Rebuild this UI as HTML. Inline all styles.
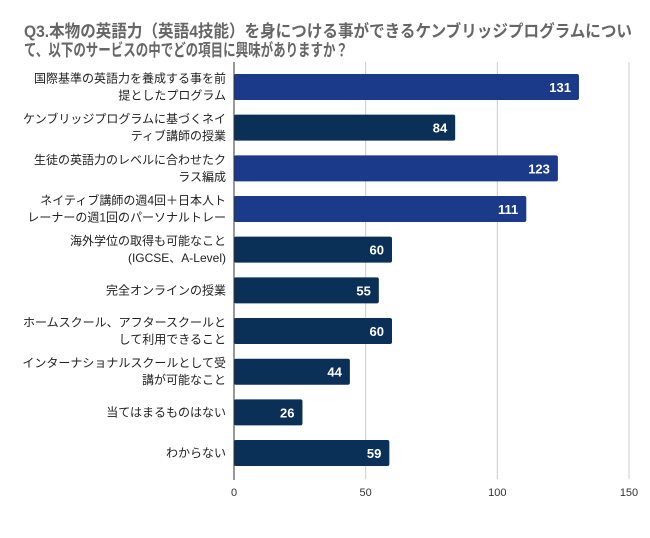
<!DOCTYPE html>
<html><head><meta charset="utf-8"><style>
body{margin:0;background:#fff;}
svg text{font-family:"Liberation Sans","Noto Sans CJK JP",sans-serif;}
</style></head><body>
<svg width="650" height="533" xmlns="http://www.w3.org/2000/svg">
<rect width="650" height="533" fill="#fff"/>
<text x="24" y="37" font-size="17" font-weight="bold" fill="#666" textLength="608" lengthAdjust="spacingAndGlyphs">Q3.本物の英語力（英語4技能）を身につける事ができるケンブリッジプログラムについ</text>
<text x="24" y="56" font-size="17" font-weight="bold" fill="#666" textLength="324" lengthAdjust="spacingAndGlyphs">て、以下のサービスの中でどの項目に興味がありますか？</text>
<g id="grid"></g><g id="bars"></g><g id="labels"></g><g id="ticks"></g>
</svg>
<script>
const categories=[["国際基準の英語力を養成する事を前","提としたプログラム"],["ケンブリッジプログラムに基づくネイ","ティブ講師の授業"],["生徒の英語力のレベルに合わせたク","ラス編成"],["ネイティブ講師の週4回＋日本人ト","レーナーの週1回のパーソナルトレー"],["海外学位の取得も可能なこと","(IGCSE、A-Level)"],["完全オンラインの授業"],["ホームスクール、アフタースクールと","して利用できること"],["インターナショナルスクールとして受","講が可能なこと"],["当てはまるものはない"],["わからない"]];
const values=[131,84,123,111,60,55,60,44,26,59];
const highlighted=[true,false,true,true,false,false,false,false,false,false];
const tickValues=[0,50,100,150];
const NS="http://www.w3.org/2000/svg";
const x0=234,x1=629,maxV=150,top0=74,pitch=40.67,bh=26;
const xs=v=>x0+(v/maxV)*(x1-x0);
const ys=i=>top0+i*pitch;
function mk(tag,attrs,parent){const e=document.createElementNS(NS,tag);for(const k in attrs)e.setAttribute(k,attrs[k]);document.getElementById(parent).appendChild(e);return e;}
tickValues.forEach(t=>{
 if(t>0){const g=mk('line',{x1:xs(t),x2:xs(t),y1:62,y2:479,stroke:'#ccc','stroke-width':1},'grid');
 
 }
 const tl=mk('text',{x:xs(t),y:496,'font-size':11,fill:'#333','text-anchor':'middle'},'ticks');
 tl.textContent=t;
 
 
});
values.forEach((v,i)=>{
 const r=mk('rect',{x:x0,y:ys(i),width:xs(v)-x0,height:bh,rx:2,fill:highlighted[i]?'#1b3a8a':'#0b3058'},'bars');
 
 
 const vl=mk('text',{x:xs(v)-8,y:ys(i)+bh/2+5,'font-size':13,'font-weight':'bold',fill:'#fff','text-anchor':'end'},'bars');
 vl.textContent=v;
 
 
 const lines=categories[i];
 const cy=ys(i)+bh/2;
 lines.forEach((ln,j)=>{
  const t=mk('text',{x:226,y:cy+4+(j-(lines.length-1)/2)*17,'font-size':12,fill:'#222','text-anchor':'end'},'labels');
  t.textContent=ln;
  
  
 });
});
const ax=mk('line',{x1:x0,x2:x0,y1:62,y2:480,stroke:'#333','stroke-width':1},'ticks');


</script>
</body></html>
